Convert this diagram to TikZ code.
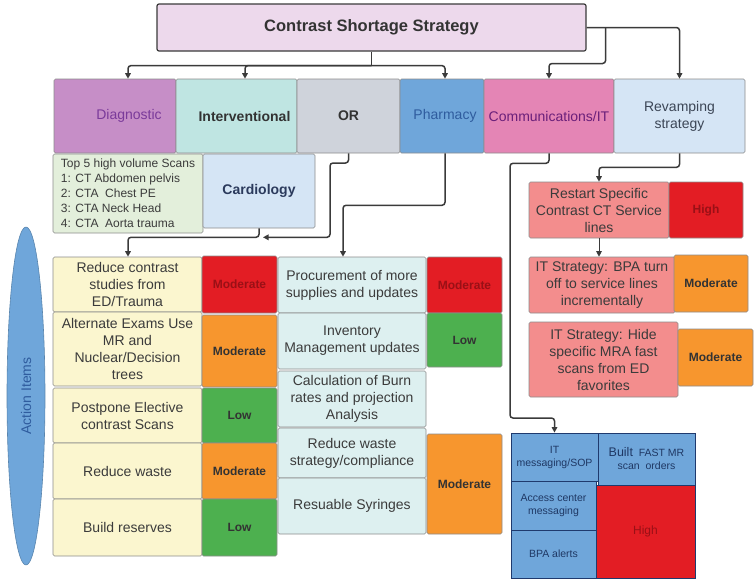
\documentclass[tikz,border=0pt]{standalone}
\usepackage{fontspec}
\setmainfont{Liberation Sans}
\usetikzlibrary{arrows.meta,shapes.geometric}

\definecolor{titlefill}{HTML}{EDD9EC}
\definecolor{diagfill}{HTML}{C68EC7}
\definecolor{diagtext}{HTML}{7A3A9A}
\definecolor{intfill}{HTML}{BFE5E2}
\definecolor{orfill}{HTML}{CFD3DB}
\definecolor{pharmfill}{HTML}{6FA6DA}
\definecolor{pharmtext}{HTML}{2F5C9E}
\definecolor{commfill}{HTML}{E485B5}
\definecolor{commtext}{HTML}{6A1F7A}
\definecolor{revfill}{HTML}{D5E5F5}
\definecolor{revtext}{HTML}{3C4656}
\definecolor{scanfill}{HTML}{E3EFDB}
\definecolor{cardiotext}{HTML}{2B3A5C}
\definecolor{yellowfill}{HTML}{FBF6CF}
\definecolor{tealfill}{HTML}{DDF0F0}
\definecolor{salmonfill}{HTML}{F38D8D}
\definecolor{redfill}{HTML}{E31D24}
\definecolor{redtext}{HTML}{9A1016}
\definecolor{orangefill}{HTML}{F7962E}
\definecolor{greenfill}{HTML}{4DB04F}
\definecolor{itblue}{HTML}{6FA6DA}
\definecolor{itborder}{HTML}{1F3A6E}
\definecolor{ittext}{HTML}{1F3864}
\definecolor{bodytext}{HTML}{3B3B3B}
\definecolor{linegray}{HTML}{3A3A3A}
\definecolor{boxline}{HTML}{8C8C8C}

\tikzset{
  cat/.style={draw=boxline, line width=0.6pt, rounded corners=1.5pt,
    minimum height=74pt, inner sep=1pt, align=center,
    font=\fontsize{14}{17}\selectfont},
  item/.style={draw=boxline, line width=0.6pt, rounded corners=1.5pt,
    inner sep=1pt, align=center, text=bodytext,
    font=\fontsize{14}{17}\selectfont},
  rate/.style={item, minimum width=75pt, text=black!80,
    font=\fontsize{12}{14}\selectfont\bfseries},
  itbox/.style={draw=itborder, fill=itblue, line width=0.8pt, inner sep=1pt,
    align=center, text=ittext, font=\fontsize{10.5}{13}\selectfont},
  arr/.style={draw=linegray, line width=1.5pt, rounded corners=3pt,
    -{Triangle[length=5.5pt,width=5.5pt]}}
}

\begin{document}
\begin{tikzpicture}[x=1pt,y=-1pt]
  \useasboundingbox (0,0) rectangle (756,584);

  % title
  \node[draw=linegray, line width=1.2pt, rounded corners=2pt, fill=titlefill,
    minimum width=429pt, minimum height=47pt, text=black!80,
    font=\fontsize{16.5}{19}\selectfont\bfseries] (title) at (371.5,27.5)
    {Contrast Shortage Strategy};

  % categories
  \node[cat, fill=diagfill, text=diagtext, minimum width=122pt] (diag) at (115,116) {\hspace*{28pt}Diagnostic};
  \node[cat, fill=intfill, text=black!80, minimum width=121pt, font=\fontsize{14}{17}\selectfont\bfseries] (interv) at (236.5,116) {\hspace*{16pt}Interventional};
  \node[cat, fill=orfill, text=black!80, minimum width=103pt, font=\fontsize{14}{17}\selectfont\bfseries] (or) at (348.5,116) {OR};
  \node[cat, fill=pharmfill, text=pharmtext, minimum width=84pt] (pharm) at (442,116) {\hspace*{6pt}Pharmacy};
  \node[cat, fill=commfill, text=commtext, minimum width=130pt] (comm) at (549,116) {Communications/IT};
  \node[cat, fill=revfill, text=revtext, minimum width=131pt] (revamp) at (679.5,116) {Revamping\\strategy};

  % diagnostic details
  \node[item, fill=scanfill, align=left, minimum width=150pt, minimum height=79pt,
    font=\fontsize{12}{15}\selectfont] (scans) at (128,193.5)
    {Top 5 high volume Scans\\1: CT Abdomen pelvis\\2: CTA~~Chest PE\\3: CTA Neck Head\\4: CTA~~Aorta trauma};
  \node[item, fill=revfill, text=cardiotext, minimum width=112pt, minimum height=74pt,
    font=\fontsize{14}{17}\selectfont\bfseries] (cardio) at (259,191) {Cardiology};

  % action items
  \node[ellipse, rotate=90, draw=itblue!80!black, line width=0.6pt, fill=itblue,
    minimum width=338pt, minimum height=38pt, inner sep=0pt, text=pharmtext,
    font=\fontsize{14}{17}\selectfont] (action) at (26,396) {Action Items};

  % left column
  \node[item, fill=yellowfill, minimum width=149pt, minimum height=55pt] (l1) at (127.5,284.5) {Reduce contrast\\studies from\\ED/Trauma};
  \node[rate, fill=redfill, text=redtext, minimum height=57pt] (r1) at (239.5,284.5) {Moderate};
  \node[item, fill=yellowfill, minimum width=149pt, minimum height=74pt] (l2) at (127.5,349) {Alternate Exams Use\\MR and\\Nuclear/Decision\\trees};
  \node[rate, fill=orangefill, minimum height=72pt] (r2) at (239.5,351) {Moderate};
  \node[item, fill=yellowfill, minimum width=149pt, minimum height=55pt] (l3) at (127.5,415.5) {Postpone Elective\\contrast Scans};
  \node[rate, fill=greenfill, minimum height=55pt] (r3) at (239.5,415.5) {Low};
  \node[item, fill=yellowfill, minimum width=149pt, minimum height=56pt] (l4) at (127.5,471) {Reduce waste};
  \node[rate, fill=orangefill, minimum height=56pt] (r4) at (239.5,471) {Moderate};
  \node[item, fill=yellowfill, minimum width=149pt, minimum height=57pt] (l5) at (127.5,527.5) {Build reserves};
  \node[rate, fill=greenfill, minimum height=57pt] (r5) at (239.5,527.5) {Low};

  % middle column
  \node[item, fill=tealfill, minimum width=148pt, minimum height=56pt] (m1) at (352,285) {Procurement of more\\supplies and updates};
  \node[rate, fill=redfill, text=redtext, minimum height=56pt] (s1) at (464.5,285) {Moderate};
  \node[item, fill=tealfill, minimum width=148pt, minimum height=56pt] (m2) at (352,341) {Inventory\\Management updates};
  \node[rate, fill=greenfill, minimum height=54pt] (s2) at (464.5,340) {Low};
  \node[item, fill=tealfill, minimum width=148pt, minimum height=56pt] (m3) at (352,399) {Calculation of Burn\\rates and projection\\Analysis};
  \node[item, fill=tealfill, minimum width=148pt, minimum height=50pt] (m4) at (352,453) {Reduce waste\\strategy/compliance};
  \node[item, fill=tealfill, minimum width=148pt, minimum height=56pt] (m5) at (352,506) {Resuable Syringes};
  \node[rate, fill=orangefill, minimum height=100pt] (s3) at (464.5,484) {Moderate};

  % revamping strategy
  \node[item, fill=salmonfill, minimum width=140pt, minimum height=56pt] (restart) at (599,210) {Restart Specific\\Contrast CT Service\\lines};
  \node[rate, fill=redfill, text=redtext, minimum width=74pt, minimum height=56pt] (high1) at (706,210) {High};
  \node[item, fill=salmonfill, minimum width=146pt, minimum height=56pt] (bpa) at (602,285) {IT Strategy: BPA turn\\off to service lines\\incrementally};
  \node[rate, fill=orangefill, minimum width=74pt, minimum height=57pt] (mod1) at (711,283.5) {Moderate};
  \node[item, fill=salmonfill, minimum width=149pt, minimum height=75pt] (hide) at (603.5,359.5) {IT Strategy: Hide\\specific MRA fast\\scans from ED\\favorites};
  \node[rate, fill=orangefill, minimum height=57pt] (mod2) at (715.5,357.5) {Moderate};

  % communications / IT
  \node[itbox, minimum width=87pt, minimum height=48pt] (itmsg) at (554.5,457) {IT\\messaging/SOP};
  \node[itbox, minimum width=97pt, minimum height=52pt] (fastmr) at (646.5,459) {{\fontsize{12.5}{14}\selectfont Built}~~FAST MR\\scan~~orders};
  \node[itbox, minimum width=85pt, minimum height=49pt] (access) at (553.5,505.5) {Access center\\messaging};
  \node[itbox, minimum width=85pt, minimum height=48pt] (bpaalert) at (553.5,554) {BPA alerts};
  \node[itbox, fill=redfill, text=redtext, minimum width=99pt, minimum height=93pt,
    font=\fontsize{12}{14}\selectfont] (high2) at (645.5,531.5) {High};

  % connectors from the title
  \coordinate (tj) at ([yshift=-14pt]title.south);
  \draw[line width=1.5pt, draw=linegray] (title.south) -- (tj);
  \draw[arr] (tj) -| ([xshift=13pt]diag.north);
  \draw[arr] (tj) -| ([xshift=8.5pt]interv.north);
  \draw[arr] (tj) -| ([xshift=3pt]pharm.north);
  \draw[arr] (title.east) -| (revamp.north);
  \draw[arr] ([xshift=19pt]title.east) -- ([xshift=19pt,yshift=-36pt]title.east) -| (comm.north);

  % connectors to the action items
  \coordinate (cj) at ([yshift=-9pt]cardio.south);
  \draw[arr] (cardio.south) -- (cj) -| ([xshift=0.5pt]l1.north);
  \draw[arr] (or.south) |- (330,163) |- ([xshift=4pt]cj);
  \draw[arr] ([xshift=3pt]pharm.south) -- ++(0,52) -| ([xshift=-9pt]m1.north);
  \draw[arr] (comm.south) -- ++(0,10) -| (510,418) -| (itmsg.north);
  \draw[arr] (revamp.south) -- ++(0,14) -| (restart.north);
  \draw[arr, line width=0.8pt] (restart.south) -- (restart.south |- bpa.north);
\end{tikzpicture}
\end{document}
